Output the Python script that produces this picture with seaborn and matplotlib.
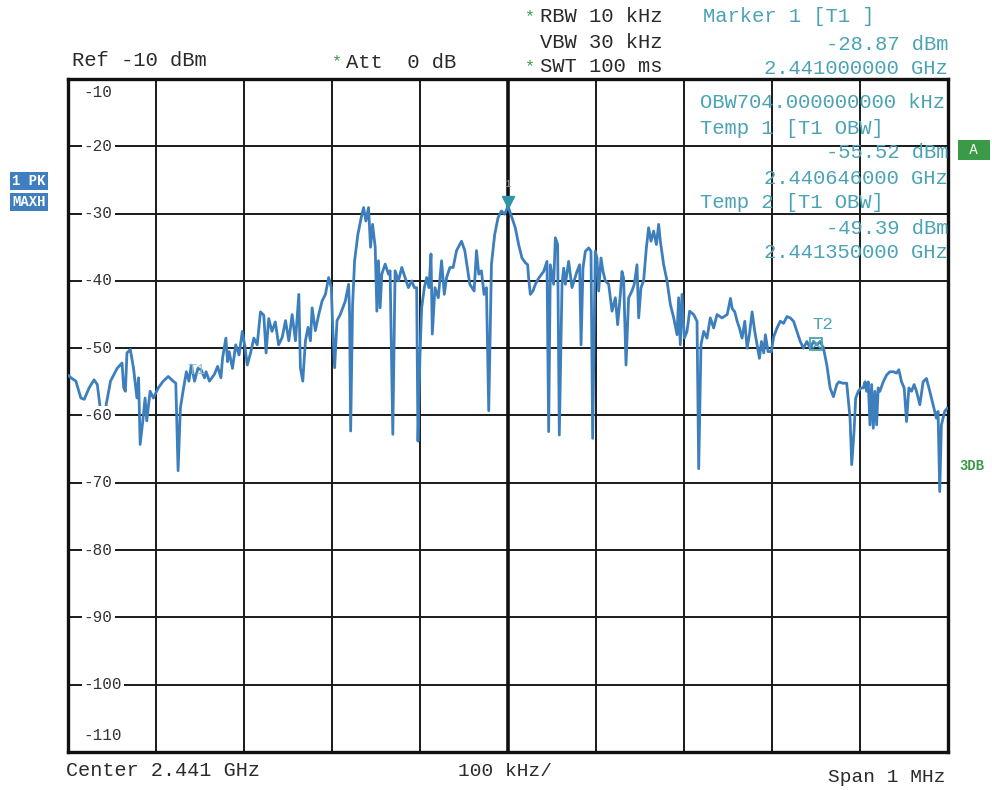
import matplotlib
matplotlib.use("Agg")
import matplotlib.pyplot as plt
import seaborn as sns
import pandas as pd
import numpy as np

# ---------------- data (frequency offset from 2.441 GHz in kHz, level in dBm) ----------------
seg_left = [(-500.0, -54.0), (-496.6, -54.4), (-491.0, -54.9), (-485.4, -57.4), (-481.6, -57.6), (-476.0, -55.9),
            (-470.4, -54.7), (-466.7, -55.4), (-462.9, -59.4), (-461.0, -60.8), (-457.3, -58.9), (-451.7, -54.9),
            (-444.2, -53.0), (-438.6, -52.2), (-436.7, -55.9), (-434.8, -56.4), (-433.0, -50.7), (-429.2, -50.2),
            (-425.5, -53.0), (-421.7, -57.4), (-419.8, -54.4), (-418.0, -64.3), (-415.0, -60.8), (-412.4, -57.4),
            (-410.5, -60.8), (-406.7, -56.4), (-403.0, -57.4), (-397.4, -55.9), (-391.8, -54.9), (-386.1, -54.2),
            (-380.5, -54.9), (-377.5, -55.2), (-374.9, -68.2), (-372.3, -58.9), (-369.3, -56.4), (-365.5, -53.5),
            (-362.6, -54.9), (-359.9, -52.5), (-356.2, -54.9), (-352.4, -53.0), (-348.7, -53.2), (-344.9, -54.4),
            (-343.1, -53.5), (-339.3, -54.9), (-333.7, -53.9), (-330.0, -52.7), (-326.2, -54.4), (-324.4, -51.5),
            (-320.6, -48.5), (-318.7, -52.0), (-316.9, -50.5), (-313.1, -53.0), (-309.4, -49.5), (-305.6, -51.0),
            (-301.9, -47.5), (-298.9, -49.8), (-296.3, -52.5), (-292.5, -50.7), (-288.8, -48.5), (-285.0, -49.5),
            (-281.3, -44.6), (-277.5, -45.1), (-274.9, -50.7), (-271.9, -45.6), (-268.2, -47.5), (-264.4, -46.1),
            (-260.7, -49.5)]

seg_center_left = [(-256.6, -48.4), (-252.8, -45.9), (-249.1, -48.9), (-245.3, -45.0), (-241.5, -48.9), (-237.7, -42.0),
                   (-235.9, -52.9), (-233.2, -54.9), (-230.2, -48.9), (-227.2, -46.9), (-224.5, -48.9), (-222.6, -44.0),
                   (-218.9, -47.4), (-215.1, -45.0), (-211.3, -43.0), (-207.5, -42.0), (-203.8, -39.5), (-200.8, -41.0),
                   (-199.2, -46.9), (-197.0, -52.9), (-194.3, -45.9), (-190.6, -45.0), (-184.9, -43.0), (-181.1, -40.5),
                   (-180.0, -45.0), (-178.8, -62.3), (-176.6, -43.5), (-174.3, -37.0), (-170.6, -33.1), (-166.8, -30.6),
                   (-164.1, -29.1), (-161.5, -31.1), (-158.5, -29.1), (-156.2, -35.0), (-153.9, -31.6), (-150.9, -35.0),
                   (-149.0, -44.5), (-147.2, -37.0), (-145.3, -44.0), (-143.4, -39.0), (-139.6, -37.5), (-135.8, -39.0),
                   (-134.0, -38.5), (-130.9, -62.8), (-128.3, -38.5), (-124.5, -40.0), (-120.7, -38.0), (-117.0, -39.5),
                   (-113.2, -41.0), (-109.4, -40.0), (-106.4, -41.0), (-103.8, -41.0), (-102.3, -63.8), (-100.0, -50.9),
                   (-98.1, -44.0), (-95.1, -41.0), (-92.4, -39.5), (-89.8, -41.0), (-87.5, -36.0), (-86.0, -47.9),
                   (-83.0, -41.0), (-79.2, -42.5), (-75.5, -37.0), (-72.4, -42.0), (-69.8, -39.5), (-66.0, -38.0),
                   (-62.3, -38.0), (-58.5, -35.5), (-52.8, -34.1), (-49.1, -35.5), (-43.4, -40.5), (-38.5, -41.5),
                   (-35.8, -35.5), (-33.2, -39.0), (-30.2, -38.5), (-27.2, -42.0), (-24.5, -41.0), (-21.9, -59.3),
                   (-18.8, -37.5), (-15.1, -33.1), (-11.3, -30.6), (-7.5, -29.6), (-3.8, -30.1)]

seg_center_right = [(0.0, -28.87), (4.5, -30.6), (8.3, -32.1), (12.1, -34.6), (15.9, -36.6), (19.7, -37.3), (22.3, -37.6),
                    (23.5, -39.6), (25.4, -42.0), (28.4, -41.5), (31.1, -40.5), (34.8, -39.6), (40.5, -38.6), (44.3, -37.1),
                    (46.2, -62.4), (48.1, -37.6), (51.9, -40.5), (53.8, -33.6), (56.4, -34.6), (58.3, -62.9), (61.4, -40.5),
                    (63.3, -38.1), (65.2, -40.5), (68.9, -37.1), (72.7, -41.0), (78.4, -38.6), (81.4, -37.6), (83.0, -49.5),
                    (85.2, -38.1), (87.9, -35.6), (91.7, -35.1), (94.3, -35.6), (96.2, -63.4), (99.2, -35.6), (101.1, -36.6),
                    (103.0, -41.5), (105.7, -36.6), (108.0, -38.6), (110.6, -40.0), (114.4, -40.5), (118.2, -44.5),
                    (122.0, -42.5), (124.6, -46.5), (127.7, -42.0), (129.5, -38.6), (131.4, -39.6), (134.1, -52.5),
                    (137.1, -42.5), (140.9, -41.5), (143.5, -40.5), (146.6, -37.6), (148.5, -45.5), (151.1, -41.0),
                    (154.1, -40.0), (157.2, -35.1), (159.8, -32.1), (162.5, -34.1), (165.5, -32.6), (168.6, -34.6),
                    (171.2, -31.6), (173.1, -34.1), (176.9, -37.6), (180.7, -40.0), (184.5, -43.5), (188.3, -45.5),
                    (192.1, -48.0), (193.9, -42.5), (195.8, -49.5), (197.7, -42.0), (200.4, -48.5), (203.4, -47.5),
                    (206.4, -44.5), (211.0, -45.0), (214.8, -46.0), (216.7, -67.9), (219.3, -49.5), (222.4, -47.5),
                    (226.1, -48.5), (229.9, -45.5), (233.7, -47.0), (237.5, -45.0), (243.2, -45.5)]

seg_right = [(249.1, -45.0), (252.8, -42.6), (254.7, -44.1), (257.7, -44.6), (260.4, -46.0), (263.0, -47.0), (266.0, -48.5),
             (269.1, -46.0), (271.7, -50.0), (274.3, -48.0), (277.4, -44.6), (280.4, -47.5), (283.0, -49.5), (285.7, -51.5),
             (288.0, -49.0), (290.6, -50.7), (292.5, -48.0), (295.5, -50.5), (299.2, -50.5), (301.9, -48.3), (305.7, -47.0),
             (309.4, -46.0), (313.2, -46.3), (317.0, -45.3), (320.8, -45.5), (324.5, -46.0), (328.3, -47.5), (332.1, -49.0),
             (335.8, -50.0), (339.6, -49.0), (343.4, -50.0), (347.2, -49.0), (350.9, -49.5), (354.7, -49.0), (358.5, -50.0),
             (362.3, -52.5), (366.0, -55.9), (369.8, -57.2), (373.6, -55.4), (376.2, -55.0), (380.0, -55.2), (384.9, -55.2),
             (388.7, -60.4), (390.6, -67.3), (393.2, -62.4), (395.1, -57.4), (398.1, -56.4), (401.1, -55.9), (403.8, -55.9),
             (405.7, -55.0), (407.5, -56.4), (409.4, -55.0), (411.3, -61.4), (413.2, -55.4), (415.1, -61.9), (417.0, -56.4),
             (418.9, -61.4), (420.7, -55.9), (422.6, -56.4), (426.4, -55.0), (430.2, -54.0), (433.9, -53.5), (437.7, -53.5),
             (441.5, -53.7), (444.1, -53.2), (447.2, -55.0), (450.2, -55.9), (452.9, -60.9), (455.5, -55.9), (458.5, -56.4),
             (461.5, -55.4), (464.2, -56.4), (468.0, -58.4), (471.7, -55.0), (475.5, -54.5), (479.3, -56.4), (483.0, -58.4),
             (486.8, -60.4), (488.7, -59.4), (490.6, -71.3), (492.5, -61.4), (494.3, -60.4), (496.2, -59.4), (499.2, -58.9)]

y_ticks = [-10, -20, -30, -40, -50, -60, -70, -80, -90, -100, -110]
x_grid = [-400, -300, -200, -100, 0, 100, 200, 300, 400]

marker1 = (0.0, -28.87)
temp1 = (-354.0, -55.52)
temp2 = (350.0, -49.39)

header_left = ["Ref -10 dBm"]
settings = ["RBW 10 kHz", "VBW 30 kHz", "SWT 100 ms"]
marker_lines = ["Marker 1 [T1 ]", "-28.87 dBm", "2.441000000 GHz"]
obw_lines = ["OBW704.000000000 kHz", "Temp 1 [T1 OBW]", "-55.52 dBm", "2.440646000 GHz",
             "Temp 2 [T1 OBW]", "-49.39 dBm", "2.441350000 GHz"]

# ---------------- figure ----------------
sns.set_style("white")
plt.rcParams['font.family'] = ['Liberation Mono', 'DejaVu Sans Mono']

TRACE = '#3d7fbd'
TEAL = '#4aa3b5'
GREEN = '#3a9a48'
TXT = '#2a2a2a'
FS = 14.8

fig = plt.figure(figsize=(9.92, 7.90), dpi=100)
fig.patch.set_facecolor('white')
ax = fig.add_axes([68/992, 38/790, 880/992, 673/790])

pts = seg_left + seg_center_left + seg_center_right + seg_right
df = pd.DataFrame(pts, columns=['freq', 'level'])
sns.lineplot(data=df, x='freq', y='level', ax=ax, color=TRACE, lw=2.0,
             estimator=None, sort=False, zorder=3)

ax.set_xlim(-500, 500)
ax.set_ylim(-110, -10)
ax.set_xticks(x_grid)
ax.set_yticks(y_ticks[1:-1])
ax.tick_params(length=0, labelbottom=False, labelleft=False)
ax.grid(True, color='#1a1a1a', lw=1.4)
ax.axvline(0, color='#111111', lw=2.6, zorder=2)
ax.set_xlabel('')
ax.set_ylabel('')
for s in ax.spines.values():
    s.set_color('#111111')
    s.set_linewidth(2.4)

# y labels inside the frame
for v in y_ticks:
    yy = v
    if v == -10:
        yy = -12.0
    elif v == -110:
        yy = -107.5
    ax.text(-482, yy, f"{v}", fontsize=11.5, color='#333333', ha='left', va='center',
            bbox=dict(boxstyle='square,pad=0.12', fc='white', ec='none'), zorder=4)

# markers
ax.plot([marker1[0]], [marker1[1] + 0.6], marker='v', ms=8, color='#2f95a8', zorder=5)
ax.text(marker1[0], marker1[1] + 3.3, "1", fontsize=8, color='#999999', ha='center', va='center')
ax.plot([temp2[0]], [temp2[1]], marker='s', ms=8, mfc='none', mec=TEAL, mew=1.3, zorder=5)
ax.plot([temp2[0]], [temp2[1]], marker='x', ms=6, color=TEAL, mew=1.0, zorder=5)
ax.text(temp2[0] + 8, temp2[1] + 1.8, "T2", fontsize=12.5, color=TEAL, ha='center', va='bottom')
ax.text(temp1[0], temp1[1] + 1.2, "T1", fontsize=11, color='#8cc3cf', ha='center', va='bottom', alpha=0.9)

# OBW / temp annotations inside plot
for i, t in enumerate(obw_lines):
    ypx = 103 + i * 25.0
    yf = 1 - ypx / 790
    if t.startswith("OBW") or t.startswith("Temp"):
        fig.text(700/992, yf, t, fontsize=FS, color=TEAL, ha='left', va='center')
    else:
        fig.text(948/992, yf, t, fontsize=FS, color=TEAL, ha='right', va='center')

# header
fig.text(72/992, 1 - 60/790, header_left[0], fontsize=FS, color=TXT, ha='left', va='center')
fig.text(337/992, 1 - 62/790, "*", fontsize=12, color=GREEN, ha='center', va='center')
fig.text(346/992, 1 - 62/790, "Att  0 dB", fontsize=FS, color=TXT, ha='left', va='center')
for i, (t, star) in enumerate(zip(settings, [True, False, True])):
    ypx = 17 + i * 25
    if star:
        fig.text(530/992, 1 - ypx/790, "*", fontsize=12, color=GREEN, ha='center', va='center')
    fig.text(662/992, 1 - ypx/790, t, fontsize=FS, color=TXT, ha='right', va='center')
fig.text(703/992, 1 - 17/790, marker_lines[0], fontsize=FS, color=TEAL, ha='left', va='center')
fig.text(948/992, 1 - 44/790, marker_lines[1], fontsize=FS, color=TEAL, ha='right', va='center')
fig.text(948/992, 1 - 69/790, marker_lines[2], fontsize=FS, color=TEAL, ha='right', va='center')

# side labels
fig.text(29/992, 1 - 181/790, "1 PK", fontsize=10, color='white', ha='center', va='center', fontweight='bold',
         bbox=dict(boxstyle='square,pad=0.15', fc='#3f7fbf', ec='none'))
fig.text(29/992, 1 - 202/790, "MAXH", fontsize=10, color='white', ha='center', va='center', fontweight='bold',
         bbox=dict(boxstyle='square,pad=0.15', fc='#3f7fbf', ec='none'))
fig.text(974/992, 1 - 150/790, " A ", fontsize=10, color='white', ha='center', va='center',
         bbox=dict(boxstyle='square,pad=0.25', fc=GREEN, ec='none'))
fig.text(972/992, 1 - 466/790, "3DB", fontsize=10, color=GREEN, ha='center', va='center', fontweight='bold')

# footer
fig.text(66/992, 1 - 770/790, "Center 2.441 GHz", fontsize=14.5, color=TXT, ha='left', va='center')
fig.text(505/992, 1 - 772/790, "100 kHz/", fontsize=14, color=TXT, ha='center', va='center')
fig.text(945/992, 1 - 778/790, "Span 1 MHz", fontsize=14, color=TXT, ha='right', va='center')

fig.savefig("out.png", dpi=100, facecolor='white')
